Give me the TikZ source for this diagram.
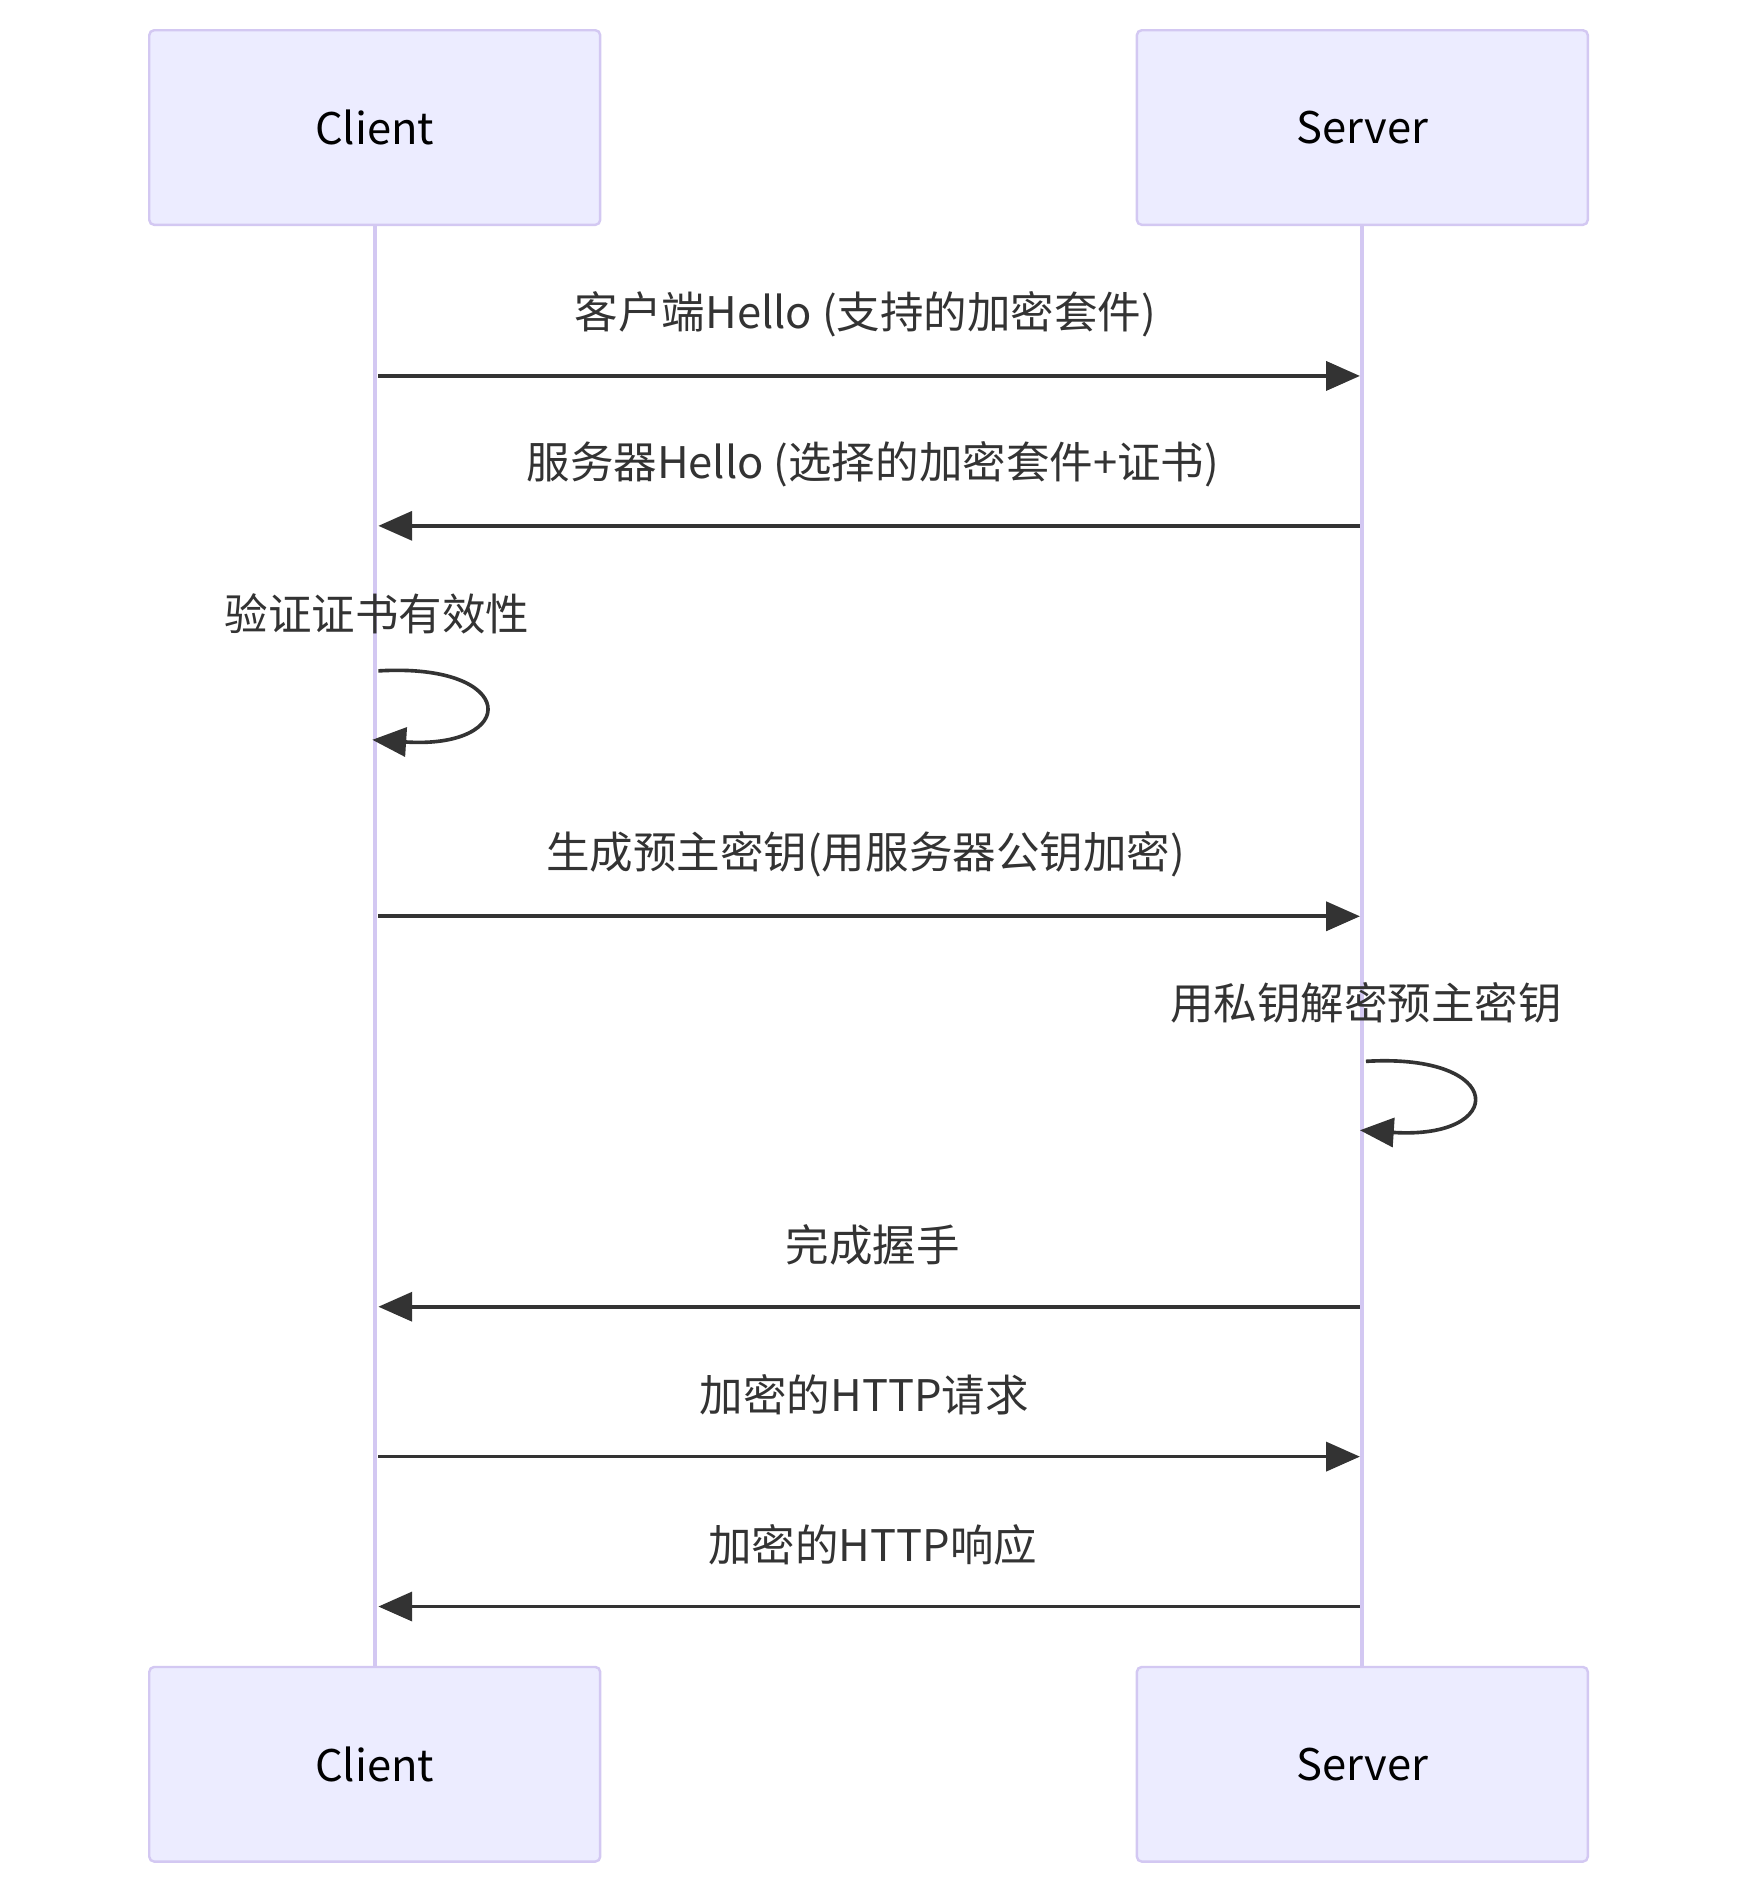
\documentclass[tikz,border=0pt]{standalone}
\usepackage{fontspec}
\setmainfont{Noto Sans CJK SC}
\usetikzlibrary{arrows.meta}
\definecolor{boxfill}{HTML}{ECECFF}
\definecolor{boxline}{HTML}{D3C8F2}
\definecolor{ink}{HTML}{333333}
\begin{document}
\begin{tikzpicture}[x=1pt,y=-1pt,
  actor/.style={draw=boxline,line width=2pt,fill=boxfill,rounded corners=4pt,minimum width=373pt,minimum height=161pt,font=\fontsize{36}{40}\selectfont,text=black},
  life/.style={draw=boxline,line width=3.5pt},
  msg/.style={draw=ink,line width=3pt,-{Triangle[length=28pt,width=24pt]}},
  lbl/.style={font=\fontsize{36}{40}\selectfont,text=ink}]
\useasboundingbox (0,0) rectangle (1440,1566);
\node[actor] (c1) at (310,105.5) {Client};
\node[actor] (s1) at (1127,105.5) {Server};
\node[actor] (c2) at (310,1459.5) {Client};
\node[actor] (s2) at (1127,1459.5) {Server};
\begin{scope}[on background layer/.try]
\draw[life] (c1.south) -- (c2.north);
\draw[life] (s1.south) -- (s2.north);
\end{scope}
\foreach \n/\y in {1/311,2/435,3/758,4/1081,5/1205,6/1329}{
  \coordinate (c\n) at (313,\y); \coordinate (s\n) at (1125,\y);}
\coordinate (ca) at (313,555); \coordinate (cb) at (308,612);
\coordinate (sa) at (1130,878); \coordinate (sb) at (1125,935);
\draw[msg] (c1) -- (s1);
\node[lbl] (t1) at (716,260) {客户端Hello (支持的加密套件)};
\draw[msg] (s2) -- (c2);
\node[lbl] (t2) at (722,384) {服务器Hello (选择的加密套件+证书)};
\node[lbl] (t3) at (312,508) {验证证书有效性};
\draw[msg] (ca) .. controls (430,548) and (430,620) .. (cb);
\draw[msg] (c3) -- (s3);
\node[lbl] (t4) at (716,707) {生成预主密钥(用服务器公钥加密)};
\node[lbl] (t5) at (1130,830) {用私钥解密预主密钥};
\draw[msg] (sa) .. controls (1247,871) and (1247,943) .. (sb);
\draw[msg] (s4) -- (c4);
\node[lbl] (t6) at (722,1030) {完成握手};
\draw[msg] (c5) -- (s5);
\node[lbl] (t7) at (715,1154) {加密的HTTP请求};
\draw[msg] (s6) -- (c6);
\node[lbl] (t8) at (722,1278) {加密的HTTP响应};
\end{tikzpicture}
\end{document}
